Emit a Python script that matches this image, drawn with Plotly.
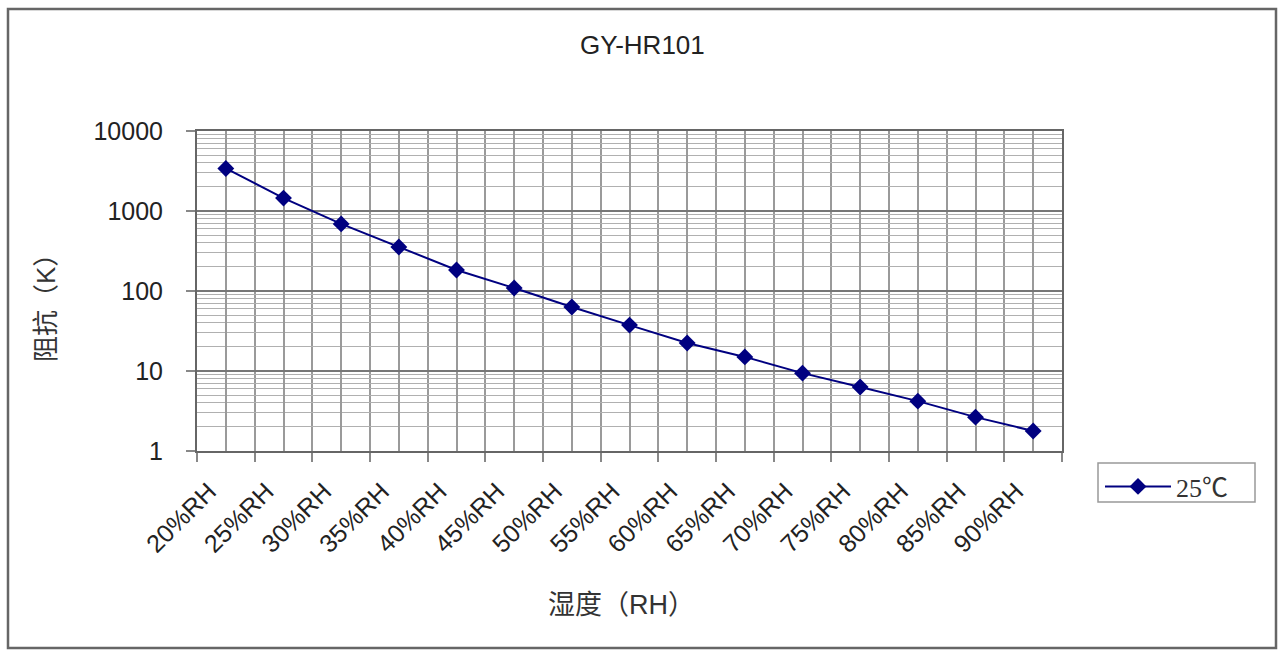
import plotly.graph_objects as go

categories = ["20%RH", "25%RH", "30%RH", "35%RH", "40%RH", "45%RH", "50%RH",
              "55%RH", "60%RH", "65%RH", "70%RH", "75%RH", "80%RH", "85%RH", "90%RH"]
resistance_k = [3400, 1450, 690, 355, 183, 109, 63, 37.5, 22.4, 15, 9.4, 6.3, 4.2, 2.65, 1.78]
series_name = "25℃"
y_tick_values = [1, 10, 100, 1000, 10000]
y_tick_labels = ["1", "10", "100", "1000", "10000"]
title_text = "GY-HR101"
x_title = "湿度（RH）"
y_title = "阻抗（K）"

W, H = 1279, 651
L, R, T, B = 197, 1062, 131, 451

x_pos = list(range(len(categories)))
boundaries = [i - 0.5 for i in range(len(categories) + 1)]
y_minor = [k * 10 ** d for d in range(4) for k in range(2, 10)]

fig = go.Figure()
fig.add_trace(go.Scatter(
    x=x_pos, y=resistance_k, name=series_name, mode="lines+markers",
    line=dict(color="#000080", width=2),
    marker=dict(symbol="diamond", size=13, color="#000080"),
    showlegend=True,
))

def px2paper_x(px):
    return (px - L) / (R - L)

def px2paper_y(py):
    return (B - py) / (B - T)

fig.update_layout(
    width=W, height=H, autosize=False,
    margin=dict(l=L, r=W - R, t=T, b=H - B, pad=0),
    paper_bgcolor="white", plot_bgcolor="white",
    font=dict(family="Liberation Sans, Arial, Noto Sans CJK SC", size=24, color="#222"),
    showlegend=True,
    legend=dict(
        x=px2paper_x(1100), y=px2paper_y(463), xanchor="left", yanchor="top",
        borderwidth=0, bgcolor="rgba(0,0,0,0)",
        font=dict(family="Liberation Serif, Noto Sans CJK SC", size=26, color="#333"),
        itemwidth=66,
    ),
    xaxis=dict(
        range=[-0.5, len(categories) - 0.5], tickmode="array", tickvals=x_pos,
        ticktext=categories, tickangle=-45, ticks="",
        showgrid=True, gridcolor="#9a9a9a", gridwidth=1.5,
        showline=True, linecolor="#666", linewidth=2, mirror=True,
        zeroline=False, ticklabelstandoff=14, ticklabelshift=-17,
        tickfont=dict(size=25, color="#222"),
        minor=dict(tickmode="array", tickvals=boundaries, showgrid=True,
                   gridcolor="#9a9a9a", gridwidth=1.5, ticks="outside",
                   ticklen=9, tickcolor="#888", tickwidth=1.5),
    ),
    yaxis=dict(
        type="log", range=[0, 4], tickmode="array", tickvals=y_tick_values,
        ticktext=y_tick_labels, ticks="outside", ticklen=9, tickcolor="#888",
        tickwidth=1.5,
        showgrid=True, gridcolor="#777", gridwidth=2,
        showline=True, linecolor="#666", linewidth=2, mirror=True,
        zeroline=False, ticklabelstandoff=18,
        tickfont=dict(size=25, color="#222"),
        minor=dict(tickmode="array", tickvals=y_minor, showgrid=True,
                   gridcolor="#b0b0b0", gridwidth=1.2, ticks=""),
    ),
    annotations=[
        dict(text=title_text, xref="paper", yref="paper",
             x=px2paper_x(642), y=px2paper_y(45), showarrow=False,
             xanchor="center", yanchor="middle",
             font=dict(size=26, color="#222")),
        dict(text=x_title, xref="paper", yref="paper",
             x=px2paper_x(621), y=px2paper_y(605), showarrow=False,
             xanchor="center", yanchor="middle",
             font=dict(size=27, color="#333")),
        dict(text=y_title, xref="paper", yref="paper",
             x=px2paper_x(46), y=px2paper_y(302), showarrow=False,
             xanchor="center", yanchor="middle", textangle=-90,
             font=dict(size=26, color="#333")),
    ],
    shapes=[
        dict(type="rect", xref="paper", yref="paper",
             x0=px2paper_x(8), x1=px2paper_x(1276),
             y0=px2paper_y(648), y1=px2paper_y(9),
             line=dict(color="#666", width=2.5), layer="below"),
        dict(type="rect", xref="paper", yref="paper",
             x0=px2paper_x(1098), x1=px2paper_x(1255),
             y0=px2paper_y(502), y1=px2paper_y(463),
             line=dict(color="#999", width=1.5), layer="below"),
    ],
)

fig.write_html("out.html", config={"displayModeBar": False},
               post_script="document.body.style.margin='0px';")
